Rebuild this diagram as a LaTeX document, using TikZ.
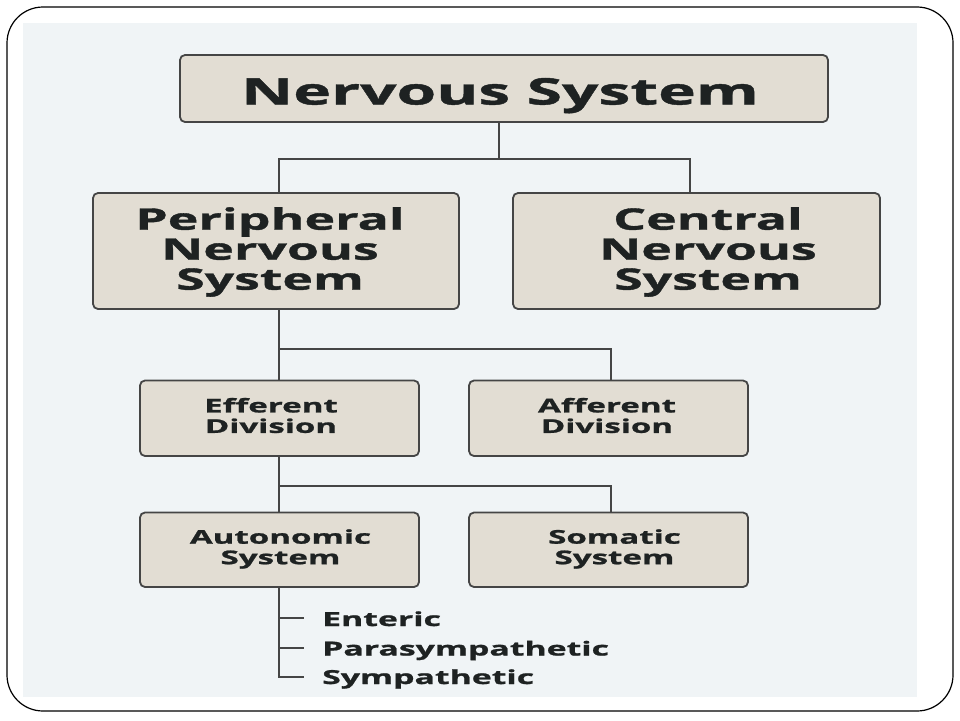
\documentclass[tikz,border=0pt]{standalone}
\usepackage{fontspec}
\newfontfamily\bx{Open Sans}[FakeStretch=1.75,FakeBold=1.2]
\definecolor{boxfill}{HTML}{E2DDD3}
\definecolor{boxline}{HTML}{454545}
\definecolor{paper}{HTML}{F0F4F6}
\definecolor{ink}{HTML}{1E2222}
\begin{document}
\begin{tikzpicture}[x=1pt,y=-1pt,
  box/.style={draw=boxline,line width=1.8pt,fill=boxfill,rounded corners=5pt},
  conn/.style={draw=boxline,line width=1.6pt},
  lbl/.style={text=ink,font=\bx\bfseries,align=center,inner sep=0pt},
  big/.style={font=\bx\bfseries\fontsize{36.6}{40}\selectfont},
  mid/.style={font=\bx\bfseries\fontsize{29.6}{30}\selectfont},
  sml/.style={font=\bx\bfseries\fontsize{18.9}{20.5}\selectfont},
  lst/.style={font=\bx\bfseries\fontsize{19.3}{20.5}\selectfont}]
\useasboundingbox (0,0) rectangle (960,720);
\fill[white] (0,0) rectangle (960,720);
\fill[paper] (23,23) rectangle (917,697);
\draw[black,line width=1.2pt,rounded corners=36pt] (7,7) rectangle (953,711);
% boxes
\path[box] (180,55) rectangle (828,122);
\node[lbl,big,anchor=base] (ns) at (500,104.5) {Nervous System};
\path[box] (93,193) rectangle (459,309);
\node[lbl,mid] (pns) at (270,252) {Peripheral\\Nervous\\System};
\path[box] (513,193) rectangle (880,309);
\node[lbl,mid] (cns) at (708,252) {Central\\Nervous\\System};
\path[box] (140,380.5) rectangle (419,456);
\node[lbl,sml] (eff) at (271,415.5) {Efferent\\Division};
\path[box] (469,380.5) rectangle (748,456);
\node[lbl,sml] (aff) at (607,415.5) {Afferent\\Division};
\path[box] (140,512.5) rectangle (419,587);
\node[lbl,sml] (aut) at (280.5,549) {Autonomic\\System};
\path[box] (469,512.5) rectangle (748,587);
\node[lbl,sml] (som) at (614.5,549) {Somatic\\System};
% named anchors on box edges
\coordinate (nsb) at (499,122);
\coordinate (pnst) at (279,193);
\coordinate (cnst) at (690,193);
\coordinate (pnsb) at (279,309);
\coordinate (efft) at (279,380.5);
\coordinate (afft) at (611,380.5);
\coordinate (effb) at (279,456);
\coordinate (autt) at (279,512.5);
\coordinate (somt) at (611,512.5);
\coordinate (autb) at (279,587);
% connectors
\draw[conn] (nsb) -- (499,159);
\draw[conn] (pnst) |- (690,159) -- (cnst);
\draw[conn] (pnsb) -- (efft);
\draw[conn] (279,349) -| (afft);
\draw[conn] (effb) -- (autt);
\draw[conn] (279,486) -| (somt);
% list
\node[lbl,lst,anchor=base west] (ent) at (322,626) {Enteric};
\node[lbl,lst,anchor=base west] (para) at (322,655.5) {Parasympathetic};
\node[lbl,lst,anchor=base west] (sym) at (322,684) {Sympathetic};
\draw[conn] (autb) |- (304,677);
\draw[conn] (279,618) -- (304,618);
\draw[conn] (279,648) -- (304,648);
\end{tikzpicture}
\end{document}
